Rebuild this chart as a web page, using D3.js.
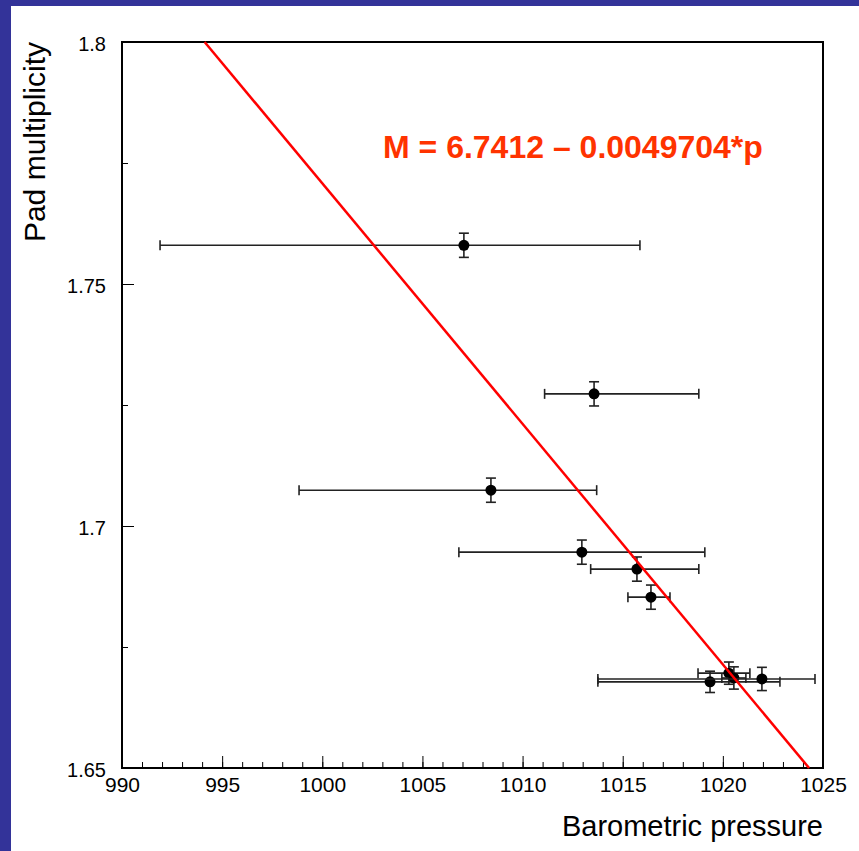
<!DOCTYPE html>
<html>
<head>
<meta charset="utf-8">
<script src="https://cdn.jsdelivr.net/npm/d3@7"></script>
<style>
  html, body { margin: 0; padding: 0; background: #333399; }
  svg { display: block; }
  text { font-family: "Liberation Sans", Arial, sans-serif; }
</style>
</head>
<body>
<div id="chart"></div>
<script>
// measured points: pressure (x), pad multiplicity (y) with error bars
const pressure     = [1007.07, 1013.57, 1008.42, 1012.96, 1015.71, 1016.41, 1019.36, 1020.30, 1020.55, 1021.95];
const pressureLow  = [991.90, 1011.10, 998.84, 1006.82, 1013.40, 1015.26, 1013.76, 1018.76, 1019.95, 1013.76];
const pressureHigh = [1015.86, 1018.80, 1013.70, 1019.10, 1018.80, 1017.36, 1022.85, 1021.35, 1021.15, 1024.60];
const multiplicity = [1.7580, 1.7273, 1.7074, 1.6946, 1.6911, 1.6853, 1.6678, 1.6696, 1.6686, 1.6684];
const multErr      = [0.0025, 0.0025, 0.0025, 0.0025, 0.0025, 0.0025, 0.0022, 0.0023, 0.0023, 0.0024];

// fit M = a - b*p
const fitA = 6.7412;
const fitB = 0.0049704;
const fitLabel = "M = 6.7412 \u2013 0.0049704*p";

const xTicks = [990, 995, 1000, 1005, 1010, 1015, 1020, 1025];
const yTicks = [1.65, 1.7, 1.75, 1.8];
const yTickLabels = ["1.65", "1.7", "1.75", "1.8"];

const width = 859, height = 851;
const frame = {left: 122, right: 823, top: 42, bottom: 768};

const svg = d3.select("#chart").append("svg")
    .attr("width", width)
    .attr("height", height);

// white pad on the blue background
svg.append("rect")
    .attr("x", 11).attr("y", 6)
    .attr("width", width - 11).attr("height", height - 6)
    .attr("fill", "white");

const x = d3.scaleLinear().domain([990, 1025]).range([frame.left, frame.right]);
const y = d3.scaleLinear().domain([1.65, 1.8]).range([frame.bottom, frame.top]);

const data = pressure.map((p, i) => ({
    p: p, lo: pressureLow[i], hi: pressureHigh[i],
    m: multiplicity[i], e: multErr[i]
}));

// x axis: minor ticks every 1, major every 5, pointing inward
const xMinor = d3.range(990, 1026, 1);
svg.append("g")
    .attr("transform", "translate(0," + frame.bottom + ")")
    .call(d3.axisBottom(x).tickValues(xMinor).tickSize(-6).tickFormat(""))
    .call(g => g.select(".domain").remove());
svg.append("g")
    .attr("class", "xAxisG")
    .attr("transform", "translate(0," + frame.bottom + ")")
    .call(d3.axisBottom(x).tickValues(xTicks).tickSize(-12).tickFormat(d3.format("d")))
    .call(g => g.select(".domain").remove())
    .call(g => g.selectAll("text")
        .attr("y", 9)
        .attr("dy", "0.71em")
        .attr("font-size", 21)
        .attr("fill", "black"));

// y axis: major every 0.05, one minor between
const yMinor = [1.675, 1.725, 1.775];
svg.append("g")
    .attr("transform", "translate(" + frame.left + ",0)")
    .call(d3.axisLeft(y).tickValues(yMinor).tickSize(-6).tickFormat(""))
    .call(g => g.select(".domain").remove());
svg.append("g")
    .attr("class", "yAxisG")
    .attr("transform", "translate(" + frame.left + ",0)")
    .call(d3.axisLeft(y).tickValues(yTicks).tickSize(-12)
        .tickFormat((d, i) => yTickLabels[i]))
    .call(g => g.select(".domain").remove())
    .call(g => g.selectAll("text")
        .attr("x", -16)
        .attr("dy", "0.42em")
        .attr("font-size", 20)
        .attr("fill", "black"));

svg.selectAll(".tick line").attr("stroke", "black").attr("stroke-width", 1);

// frame
svg.append("rect")
    .attr("x", frame.left).attr("y", frame.top)
    .attr("width", frame.right - frame.left)
    .attr("height", frame.bottom - frame.top)
    .attr("fill", "none")
    .attr("stroke", "black")
    .attr("stroke-width", 2);

// error bars + markers
const pts = svg.append("g").attr("class", "points");
const cap = 5;
const barColor = "#222";

data.forEach(d => {
    const g = pts.append("g");
    const cx = x(d.p), cy = y(d.m);
    // horizontal bar
    g.append("line")
        .attr("x1", x(d.lo)).attr("x2", x(d.hi))
        .attr("y1", cy).attr("y2", cy);
    g.append("line")
        .attr("x1", x(d.lo)).attr("x2", x(d.lo))
        .attr("y1", cy - cap).attr("y2", cy + cap);
    g.append("line")
        .attr("x1", x(d.hi)).attr("x2", x(d.hi))
        .attr("y1", cy - cap).attr("y2", cy + cap);
    // vertical bar
    g.append("line")
        .attr("x1", cx).attr("x2", cx)
        .attr("y1", y(d.m - d.e)).attr("y2", y(d.m + d.e));
    g.append("line")
        .attr("x1", cx - cap).attr("x2", cx + cap)
        .attr("y1", y(d.m - d.e)).attr("y2", y(d.m - d.e));
    g.append("line")
        .attr("x1", cx - cap).attr("x2", cx + cap)
        .attr("y1", y(d.m + d.e)).attr("y2", y(d.m + d.e));
    g.selectAll("line")
        .attr("stroke", barColor)
        .attr("stroke-width", 1.6);
    g.append("circle")
        .attr("cx", cx).attr("cy", cy)
        .attr("r", 5.5)
        .attr("fill", "black");
});

// fit line, clipped to the frame
const pTop = (fitA - 1.8) / fitB;
const pBottom = (fitA - 1.65) / fitB;
const p0 = Math.max(990, pTop), p1 = Math.min(1025, pBottom);
svg.append("line")
    .attr("x1", x(p0)).attr("y1", y(fitA - fitB * p0))
    .attr("x2", x(p1)).attr("y2", y(fitA - fitB * p1))
    .attr("stroke", "#ff0000")
    .attr("stroke-width", 2.5);

// fit label
svg.append("text")
    .attr("x", 383).attr("y", 158)
    .attr("font-size", 32)
    .attr("font-weight", "bold")
    .attr("fill", "#ff3300")
    .text(fitLabel);

// axis titles
svg.append("text")
    .attr("x", frame.right).attr("y", 836)
    .attr("text-anchor", "end")
    .attr("font-size", 29)
    .attr("fill", "black")
    .text("Barometric pressure");

svg.append("text")
    .attr("transform", "translate(45," + frame.top + ") rotate(-90)")
    .attr("text-anchor", "end")
    .attr("font-size", 30)
    .attr("fill", "black")
    .text("Pad multiplicity");
</script>
</body>
</html>
